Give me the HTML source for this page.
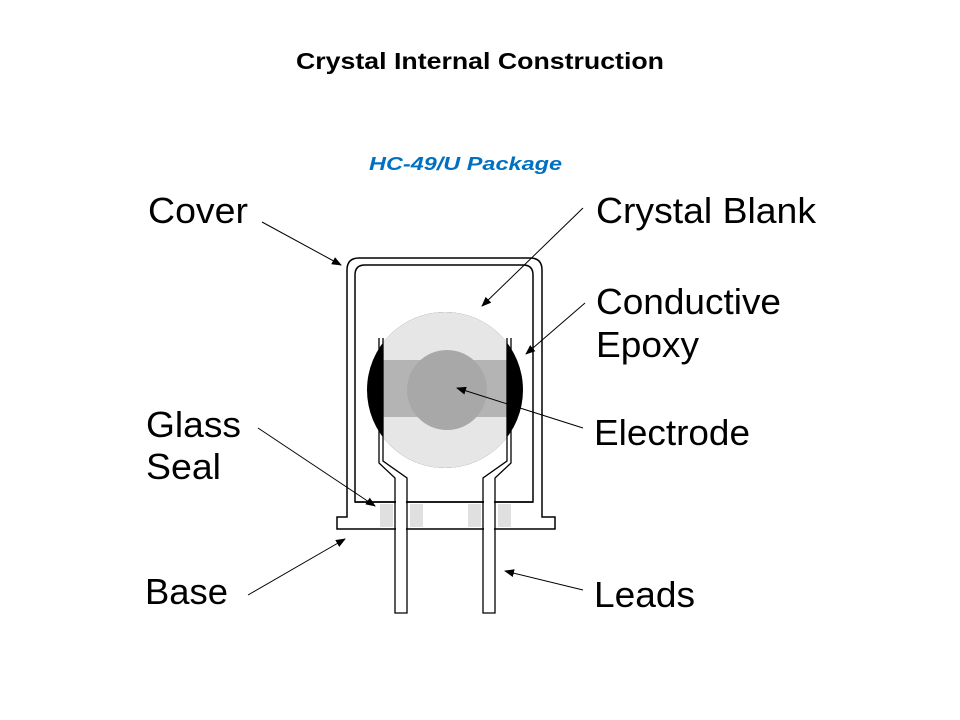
<!DOCTYPE html>
<html><head><meta charset="utf-8"><style>
html,body{margin:0;padding:0;background:#fff;}
svg{display:block;}
text{font-family:"Liberation Sans",Arial,sans-serif;}
</style></head><body>
<svg width="960" height="720" viewBox="0 0 960 720" xmlns="http://www.w3.org/2000/svg">
<defs>
<marker id="ah" markerWidth="10" markerHeight="8" refX="9" refY="4" orient="auto" markerUnits="userSpaceOnUse">
<path d="M0,0 L10,4 L0,8 Z" fill="#000"/>
</marker>
<clipPath id="cl"><rect x="383" y="300" width="124" height="180"/></clipPath>
</defs>
<text x="296" y="69" font-size="23" font-weight="bold" textLength="368" lengthAdjust="spacingAndGlyphs">Crystal Internal Construction</text>
<text x="369" y="170" font-size="18" font-weight="bold" font-style="italic" fill="#0070c0" textLength="193" lengthAdjust="spacingAndGlyphs">HC-49/U Package</text>

<!-- cover -->
<path d="M347,517 V270 Q347,258 359,258 H530 Q542,258 542,270 V517 H555 V529 H337 V517 Z" fill="#fff" stroke="#000" stroke-width="1.5"/>
<path d="M355,502 V275 Q355,265 365,265 H523 Q533,265 533,275 V502 Z" fill="none" stroke="#000" stroke-width="1.5"/>
<line x1="355" y1="502" x2="533" y2="502" stroke="#000" stroke-width="1.5"/>
<!-- crystal -->
<circle cx="445" cy="390" r="78" fill="#000"/>
<g clip-path="url(#cl)">
<circle cx="445" cy="390" r="78" fill="#e6e6e6"/>
<rect x="383" y="360" width="124" height="57" fill="#b4b4b4"/>
<circle cx="447" cy="390" r="40" fill="#a8a8a8"/>
</g>
<!-- glass seal -->
<rect x="380" y="504" width="13" height="23" fill="#e0e0e0"/>
<rect x="410" y="504" width="13" height="23" fill="#e0e0e0"/>
<rect x="468" y="504" width="13" height="23" fill="#e0e0e0"/>
<rect x="498" y="504" width="13" height="23" fill="#e0e0e0"/>

<!-- leads -->
<g fill="none" stroke="#000" stroke-width="1.3">
<path d="M379,338 V463 L395,478 V613 H407 V478 L383,461 V338"/>
<path d="M511,338 V463 L495,478 V613 H483 V478 L507,461 V338"/>
</g>
<rect x="396" y="479" width="10" height="133" fill="#fff"/>
<rect x="484" y="479" width="10" height="133" fill="#fff"/>

<!-- arrows -->
<g stroke="#000" stroke-width="1" marker-end="url(#ah)">
<line x1="262" y1="222" x2="341" y2="265"/>
<line x1="583" y1="208" x2="482" y2="306"/>
<line x1="585" y1="303" x2="526" y2="354"/>
<line x1="583" y1="428" x2="457" y2="388"/>
<line x1="258" y1="428" x2="375" y2="506"/>
<line x1="248" y1="595" x2="345" y2="539"/>
<line x1="583" y1="590" x2="505" y2="571"/>
</g>

<g font-size="36" fill="#000" lengthAdjust="spacingAndGlyphs">
<text x="148" y="223" textLength="100" lengthAdjust="spacingAndGlyphs">Cover</text>
<text x="596" y="223" textLength="220" lengthAdjust="spacingAndGlyphs">Crystal Blank</text>
<text x="596" y="314" textLength="185" lengthAdjust="spacingAndGlyphs">Conductive</text>
<text x="596" y="357" textLength="103" lengthAdjust="spacingAndGlyphs">Epoxy</text>
<text x="146" y="437" textLength="95" lengthAdjust="spacingAndGlyphs">Glass</text>
<text x="146" y="479" textLength="75" lengthAdjust="spacingAndGlyphs">Seal</text>
<text x="594" y="445" textLength="156" lengthAdjust="spacingAndGlyphs">Electrode</text>
<text x="145" y="604" textLength="83" lengthAdjust="spacingAndGlyphs">Base</text>
<text x="594" y="607" textLength="101" lengthAdjust="spacingAndGlyphs">Leads</text>
</g>
</svg>
</body></html>
